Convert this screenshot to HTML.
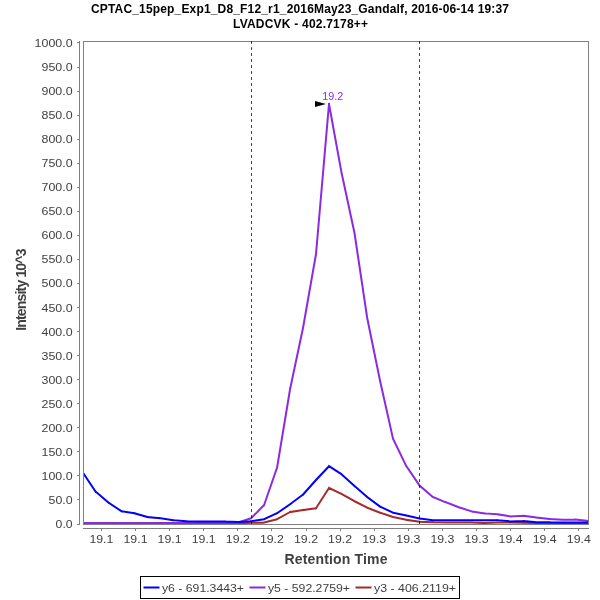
<!DOCTYPE html>
<html><head><meta charset="utf-8"><title>Chromatogram</title>
<style>
html,body{margin:0;padding:0;background:#fff;}
svg{display:block;font-family:"Liberation Sans",Arial,Helvetica,sans-serif;}
.t{font-size:11px;fill:#404040;}
.b{font-weight:bold;}
</style></head><body>
<svg width="600" height="600" viewBox="0 0 600 600">
<rect width="600" height="600" fill="#fff"/>
<text x="300" y="13" text-anchor="middle" class="b" font-size="12" fill="#000" textLength="418" lengthAdjust="spacing">CPTAC_15pep_Exp1_D8_F12_r1_2016May23_Gandalf, 2016-06-14 19:37</text>
<text x="300.5" y="27.6" text-anchor="middle" class="b" font-size="12" fill="#000" textLength="135" lengthAdjust="spacing">LVADCVK - 402.7178++</text>
<g shape-rendering="crispEdges" stroke="#808080" stroke-width="1" fill="none">
<line x1="79.5" y1="41" x2="79.5" y2="525"/>
<line x1="83" y1="528.5" x2="589" y2="528.5"/>
<line x1="77" y1="524.5" x2="79" y2="524.5"/>
<line x1="77" y1="499.5" x2="79" y2="499.5"/>
<line x1="77" y1="475.5" x2="79" y2="475.5"/>
<line x1="77" y1="451.5" x2="79" y2="451.5"/>
<line x1="77" y1="427.5" x2="79" y2="427.5"/>
<line x1="77" y1="403.5" x2="79" y2="403.5"/>
<line x1="77" y1="379.5" x2="79" y2="379.5"/>
<line x1="77" y1="355.5" x2="79" y2="355.5"/>
<line x1="77" y1="331.5" x2="79" y2="331.5"/>
<line x1="77" y1="307.5" x2="79" y2="307.5"/>
<line x1="77" y1="283.5" x2="79" y2="283.5"/>
<line x1="77" y1="259.5" x2="79" y2="259.5"/>
<line x1="77" y1="235.5" x2="79" y2="235.5"/>
<line x1="77" y1="211.5" x2="79" y2="211.5"/>
<line x1="77" y1="187.5" x2="79" y2="187.5"/>
<line x1="77" y1="163.5" x2="79" y2="163.5"/>
<line x1="77" y1="139.5" x2="79" y2="139.5"/>
<line x1="77" y1="115.5" x2="79" y2="115.5"/>
<line x1="77" y1="91.5" x2="79" y2="91.5"/>
<line x1="77" y1="67.5" x2="79" y2="67.5"/>
<line x1="77" y1="42.5" x2="79" y2="42.5"/>
<line x1="101.5" y1="529" x2="101.5" y2="531"/>
<line x1="135.5" y1="529" x2="135.5" y2="531"/>
<line x1="169.5" y1="529" x2="169.5" y2="531"/>
<line x1="203.5" y1="529" x2="203.5" y2="531"/>
<line x1="237.5" y1="529" x2="237.5" y2="531"/>
<line x1="271.5" y1="529" x2="271.5" y2="531"/>
<line x1="306.5" y1="529" x2="306.5" y2="531"/>
<line x1="340.5" y1="529" x2="340.5" y2="531"/>
<line x1="374.5" y1="529" x2="374.5" y2="531"/>
<line x1="408.5" y1="529" x2="408.5" y2="531"/>
<line x1="442.5" y1="529" x2="442.5" y2="531"/>
<line x1="476.5" y1="529" x2="476.5" y2="531"/>
<line x1="510.5" y1="529" x2="510.5" y2="531"/>
<line x1="544.5" y1="529" x2="544.5" y2="531"/>
<line x1="578.5" y1="529" x2="578.5" y2="531"/>
</g>
<text class="t" x="55.599999999999994" y="527.9" textLength="17" lengthAdjust="spacingAndGlyphs">0.0</text>
<text class="t" x="48.599999999999994" y="503.9" textLength="24" lengthAdjust="spacingAndGlyphs">50.0</text>
<text class="t" x="41.599999999999994" y="479.8" textLength="31" lengthAdjust="spacingAndGlyphs">100.0</text>
<text class="t" x="41.599999999999994" y="455.8" textLength="31" lengthAdjust="spacingAndGlyphs">150.0</text>
<text class="t" x="41.599999999999994" y="431.7" textLength="31" lengthAdjust="spacingAndGlyphs">200.0</text>
<text class="t" x="41.599999999999994" y="407.7" textLength="31" lengthAdjust="spacingAndGlyphs">250.0</text>
<text class="t" x="41.599999999999994" y="383.6" textLength="31" lengthAdjust="spacingAndGlyphs">300.0</text>
<text class="t" x="41.599999999999994" y="359.6" textLength="31" lengthAdjust="spacingAndGlyphs">350.0</text>
<text class="t" x="41.599999999999994" y="335.5" textLength="31" lengthAdjust="spacingAndGlyphs">400.0</text>
<text class="t" x="41.599999999999994" y="311.5" textLength="31" lengthAdjust="spacingAndGlyphs">450.0</text>
<text class="t" x="41.599999999999994" y="287.4" textLength="31" lengthAdjust="spacingAndGlyphs">500.0</text>
<text class="t" x="41.599999999999994" y="263.3" textLength="31" lengthAdjust="spacingAndGlyphs">550.0</text>
<text class="t" x="41.599999999999994" y="239.3" textLength="31" lengthAdjust="spacingAndGlyphs">600.0</text>
<text class="t" x="41.599999999999994" y="215.2" textLength="31" lengthAdjust="spacingAndGlyphs">650.0</text>
<text class="t" x="41.599999999999994" y="191.2" textLength="31" lengthAdjust="spacingAndGlyphs">700.0</text>
<text class="t" x="41.599999999999994" y="167.1" textLength="31" lengthAdjust="spacingAndGlyphs">750.0</text>
<text class="t" x="41.599999999999994" y="143.1" textLength="31" lengthAdjust="spacingAndGlyphs">800.0</text>
<text class="t" x="41.599999999999994" y="119.0" textLength="31" lengthAdjust="spacingAndGlyphs">850.0</text>
<text class="t" x="41.599999999999994" y="95.0" textLength="31" lengthAdjust="spacingAndGlyphs">900.0</text>
<text class="t" x="41.599999999999994" y="70.9" textLength="31" lengthAdjust="spacingAndGlyphs">950.0</text>
<text class="t" x="34.599999999999994" y="46.8" textLength="38" lengthAdjust="spacingAndGlyphs">1000.0</text>
<text class="t" x="89.4" y="543" textLength="24" lengthAdjust="spacingAndGlyphs">19.1</text>
<text class="t" x="123.5" y="543" textLength="24" lengthAdjust="spacingAndGlyphs">19.1</text>
<text class="t" x="157.6" y="543" textLength="24" lengthAdjust="spacingAndGlyphs">19.1</text>
<text class="t" x="191.7" y="543" textLength="24" lengthAdjust="spacingAndGlyphs">19.1</text>
<text class="t" x="225.8" y="543" textLength="24" lengthAdjust="spacingAndGlyphs">19.2</text>
<text class="t" x="259.9" y="543" textLength="24" lengthAdjust="spacingAndGlyphs">19.2</text>
<text class="t" x="294.0" y="543" textLength="24" lengthAdjust="spacingAndGlyphs">19.2</text>
<text class="t" x="328.1" y="543" textLength="24" lengthAdjust="spacingAndGlyphs">19.2</text>
<text class="t" x="362.2" y="543" textLength="24" lengthAdjust="spacingAndGlyphs">19.3</text>
<text class="t" x="396.3" y="543" textLength="24" lengthAdjust="spacingAndGlyphs">19.3</text>
<text class="t" x="430.4" y="543" textLength="24" lengthAdjust="spacingAndGlyphs">19.3</text>
<text class="t" x="464.5" y="543" textLength="24" lengthAdjust="spacingAndGlyphs">19.3</text>
<text class="t" x="498.6" y="543" textLength="24" lengthAdjust="spacingAndGlyphs">19.4</text>
<text class="t" x="532.7" y="543" textLength="24" lengthAdjust="spacingAndGlyphs">19.4</text>
<text class="t" x="566.8" y="543" textLength="24" lengthAdjust="spacingAndGlyphs">19.4</text>
<text x="336" y="563.5" text-anchor="middle" class="b" font-size="14" fill="#404040" textLength="103" lengthAdjust="spacing">Retention Time</text>
<text transform="translate(25.8,330.8) rotate(-90)" class="b" font-size="14" fill="#404040" textLength="82.3" lengthAdjust="spacing">Intensity 10^3</text>
<clipPath id="c"><rect x="83" y="41" width="506" height="484"/></clipPath>
<g clip-path="url(#c)" fill="none" stroke-width="2" stroke-linejoin="miter" stroke-linecap="square">
<path stroke="#a52a2a" d="M82.5 523.2L95.5 523.2 M95.5 523.2L108.4 523.2 M108.4 523.2L121.4 523.2 M121.4 523.2L134.4 523.2 M134.4 523.2L147.4 523.2 M147.4 523.2L160.3 523.2 M160.3 523.2L173.3 523.2 M173.3 523.2L186.3 523.2 M186.3 523.2L199.3 523.2 M199.3 523.2L212.2 523.2 M212.2 523.2L225.2 523.2 M225.2 523.2L238.2 523.2 M238.2 523.2L251.2 522.8 M251.2 522.8L264.1 522.5 M264.1 522.5L277.1 519.2 M277.1 519.2L290.1 512.0 M290.1 512.0L303.1 510.0 M303.1 510.0L316.0 508.2 M316.0 508.2L329.0 488.0 M329.0 488.0L341.4 493.8 M341.4 493.8L354.5 501.2 M354.5 501.2L367.2 507.7 M367.2 507.7L380.1 512.7 M380.1 512.7L393.0 517.0 M393.0 517.0L406.3 519.8 M406.3 519.8L419.6 521.8 M419.6 521.8L432.8 522.3 M432.8 522.3L445.8 522.5 M445.8 522.5L458.8 522.5 M458.8 522.5L471.7 522.5 M471.7 522.5L484.7 523.0 M484.7 523.0L497.7 522.5 M497.7 522.5L510.7 522.5 M510.7 522.5L523.6 522.8 M523.6 522.8L536.6 523.0 M536.6 523.0L549.6 523.0 M549.6 523.0L562.6 523.0 M562.6 523.0L575.5 523.0 M575.5 523.0L588.5 523.0"/>
<path stroke="#8a2be2" d="M82.5 523.0L95.5 523.0 M95.5 523.0L108.4 523.0 M108.4 523.0L121.4 523.0 M121.4 523.0L134.4 523.0 M134.4 523.0L147.4 523.0 M147.4 523.0L160.3 523.0 M160.3 523.0L173.3 523.0 M173.3 523.0L186.3 523.0 M186.3 523.0L199.3 523.0 M199.3 523.0L212.2 523.0 M212.2 523.0L225.2 523.0 M225.2 523.0L238.2 522.5 M238.2 522.5L251.2 518.2 M251.2 518.2L264.1 505.0 M264.1 505.0L277.1 467.5 M277.1 467.5L290.1 389.0 M290.1 389.0L303.1 327.5 M303.1 327.5L316.0 254.0 M316.0 254.0L329.0 104.0 M329.0 104.0L341.4 172.0 M341.4 172.0L354.5 233.0 M354.5 233.0L367.2 318.0 M367.2 318.0L380.1 381.0 M380.1 381.0L393.0 438.6 M393.0 438.6L406.3 466.1 M406.3 466.1L419.6 485.6 M419.6 485.6L432.8 496.9 M432.8 496.9L445.8 502.3 M445.8 502.3L458.8 507.3 M458.8 507.3L471.7 511.4 M471.7 511.4L484.7 513.4 M484.7 513.4L497.7 514.3 M497.7 514.3L510.7 516.4 M510.7 516.4L523.6 515.8 M523.6 515.8L536.6 517.5 M536.6 517.5L549.6 519.0 M549.6 519.0L562.6 519.8 M562.6 519.8L575.5 519.6 M575.5 519.6L588.5 521.0"/>
<path stroke="#0000ff" d="M82.5 472.0L95.5 491.5 M95.5 491.5L108.4 502.5 M108.4 502.5L121.4 511.2 M121.4 511.2L134.4 513.2 M134.4 513.2L147.4 517.0 M147.4 517.0L160.3 518.2 M160.3 518.2L173.3 520.2 M173.3 520.2L186.3 521.2 M186.3 521.2L199.3 521.5 M199.3 521.5L212.2 521.5 M212.2 521.5L225.2 521.5 M225.2 521.5L238.2 522.0 M238.2 522.0L251.2 521.2 M251.2 521.2L264.1 519.2 M264.1 519.2L277.1 513.2 M277.1 513.2L290.1 504.2 M290.1 504.2L303.1 494.5 M303.1 494.5L316.0 480.0 M316.0 480.0L329.0 466.2 M329.0 466.2L341.4 474.2 M341.4 474.2L354.5 486.0 M354.5 486.0L367.2 497.0 M367.2 497.0L380.1 506.6 M380.1 506.6L393.0 512.7 M393.0 512.7L406.3 515.5 M406.3 515.5L419.6 518.5 M419.6 518.5L432.8 520.3 M432.8 520.3L445.8 520.3 M445.8 520.3L458.8 520.3 M458.8 520.3L471.7 520.3 M471.7 520.3L484.7 520.2 M484.7 520.2L497.7 520.2 M497.7 520.2L510.7 521.4 M510.7 521.4L523.6 521.0 M523.6 521.0L536.6 522.2 M536.6 522.2L549.6 522.2 M549.6 522.2L562.6 522.6 M562.6 522.6L575.5 522.6 M575.5 522.6L588.5 522.6"/>
</g>
<rect x="83.5" y="41.5" width="505" height="483" fill="none" stroke="#808080" stroke-width="1" shape-rendering="crispEdges"/>
<g stroke="#000" stroke-opacity="0.8" stroke-width="1" stroke-dasharray="2.7 3.3">
<line x1="251.5" y1="41.2" x2="251.5" y2="525"/>
<line x1="419.5" y1="41.2" x2="419.5" y2="525"/>
</g>
<polygon points="315,101 315,107 326,104" fill="#000"/>
<text x="322.2" y="100" font-size="10" fill="#8a2be2" textLength="21" lengthAdjust="spacingAndGlyphs">19.2</text>
<rect x="140.5" y="576.5" width="319" height="22" fill="#fff" stroke="#000" stroke-width="1" shape-rendering="crispEdges"/>
<line x1="143.5" y1="587.5" x2="159.5" y2="587.5" stroke="#0000ff" stroke-width="2"/>
<text class="t" x="162.0" y="592" textLength="82" lengthAdjust="spacingAndGlyphs">y6 - 691.3443+</text>
<line x1="249.5" y1="587.5" x2="265.5" y2="587.5" stroke="#8a2be2" stroke-width="2"/>
<text class="t" x="268.0" y="592" textLength="82" lengthAdjust="spacingAndGlyphs">y5 - 592.2759+</text>
<line x1="355.5" y1="587.5" x2="371.5" y2="587.5" stroke="#a52a2a" stroke-width="2"/>
<text class="t" x="374.0" y="592" textLength="82" lengthAdjust="spacingAndGlyphs">y3 - 406.2119+</text>
</svg>
</body></html>
